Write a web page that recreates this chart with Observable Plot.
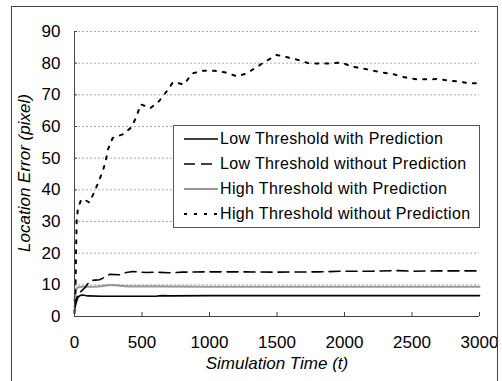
<!DOCTYPE html>
<html>
<head>
<meta charset="utf-8">
<script src="https://cdn.jsdelivr.net/npm/d3@7"></script>
<script src="https://cdn.jsdelivr.net/npm/@observablehq/plot@0.6"></script>
<style>
  html, body { margin: 0; padding: 0; background: #fff; }
  #wrap { position: relative; width: 502px; height: 381px; overflow: hidden; font-family: "Liberation Sans", Arial, sans-serif; }
  #border { position: absolute; left: 11px; top: 6px; width: 487px; height: 400px; border: 1px solid #444; box-sizing: border-box; }
  #legend { position: absolute; left: 173px; top: 125px; width: 307px; height: 103px; border: 1px solid #555; background: #fff; box-sizing: border-box; }
  .row { position: absolute; left: 10px; height: 20px; display: flex; align-items: center; font-size: 16px; letter-spacing: 0.35px; color: #000; white-space: nowrap; }
  .row svg { margin-right: 2px; }
  .ylab { position: absolute; left: 25px; top: 173px; transform: translate(-50%, -50%) rotate(-90deg); font-style: italic; font-size: 17px; white-space: nowrap; }
  .xlab { position: absolute; left: 277px; top: 364px; transform: translate(-50%, -50%); font-style: italic; font-size: 17px; white-space: nowrap; }
</style>
</head>
<body>
<div id="wrap"></div>
<script>
// ---- data ----
const seriesNames = [
  "Low Threshold with Prediction",
  "Low Threshold without Prediction",
  "High Threshold with Prediction",
  "High Threshold without Prediction"
];

const lowWithT = [0, 10, 25, 40, 60, 100, 200, 400, 600, 650, 700, 1000, 1500, 2000, 2500, 3000];
const lowWithV = [2, 4, 6, 6.6, 6.8, 6.5, 6.4, 6.4, 6.4, 6.6, 6.5, 6.6, 6.6, 6.6, 6.6, 6.6];

const lowWithoutT = [0, 10, 25, 50, 75, 100, 124, 150, 186, 220, 260, 334, 384, 433, 532, 600, 700, 800, 1000, 1200, 1500, 1800, 2000, 2200, 2400, 2500, 2700, 3000];
const lowWithoutV = [3, 5, 7, 8, 9, 10.4, 11.3, 11.5, 11.6, 12.3, 13.3, 13.2, 13.9, 14.2, 13.9, 14, 13.8, 14, 14.1, 14.1, 14, 14.1, 14.3, 14.3, 14.5, 14.3, 14.4, 14.4];

const highWithT = [0, 10, 25, 50, 100, 150, 200, 250, 300, 350, 400, 600, 1000, 1500, 2000, 2500, 3000];
const highWithV = [5, 8.5, 9.2, 9.4, 9.4, 9.4, 9.6, 9.9, 9.9, 9.7, 9.5, 9.5, 9.4, 9.4, 9.4, 9.4, 9.4];

const highWithoutT = [0, 8, 12, 16, 25, 50, 82, 110, 148, 181, 210, 230, 250, 283, 357, 421, 458, 490, 562, 626, 681, 730, 810, 874, 952, 1040, 1126, 1206, 1275, 1337, 1411, 1497, 1584, 1658, 1732, 1806, 1893, 1980, 2054, 2129, 2215, 2289, 2363, 2450, 2537, 2611, 2697, 2772, 2846, 2920, 3000];
const highWithoutV = [1, 10, 22, 30, 34, 37, 36.7, 36, 39.4, 42.8, 46, 49, 53, 56.4, 57.5, 59.7, 63, 67, 65.8, 68, 71, 74, 73.3, 76.8, 77.6, 77.6, 77, 75.8, 76.8, 78.4, 80.5, 82.6, 81.8, 81, 80, 79.9, 79.9, 80.2, 78.9, 78.4, 77.6, 77, 76.5, 75.5, 74.9, 74.9, 75, 74.5, 74.2, 73.7, 73.6];

const xTicks = [0, 500, 1000, 1500, 2000, 2500, 3000];
const yTicks = [0, 10, 20, 30, 40, 50, 60, 70, 80, 90];

const xTitle = "Simulation Time (t)";
const yTitle = "Location Error (pixel)";

// ---- build tables ----
const zip = (t, v) => t.map((d, i) => ({t: d, v: v[i]}));
const lowWith = zip(lowWithT, lowWithV);
const lowWithout = zip(lowWithoutT, lowWithoutV);
const highWith = zip(highWithT, highWithV);
const highWithout = zip(highWithoutT, highWithoutV);

const styles = [
  {stroke: "#000", strokeWidth: 1.6, dash: null},
  {stroke: "#000", strokeWidth: 1.6, dash: "11,6"},
  {stroke: "#999", strokeWidth: 2.2, dash: null},
  {stroke: "#000", strokeWidth: 2, dash: "3,7"}
];

const chart = Plot.plot({
  width: 502,
  height: 381,
  marginLeft: 74,
  marginRight: 23,
  marginTop: 31,
  marginBottom: 65,
  style: {fontFamily: "'Liberation Sans', Arial, sans-serif", background: "transparent", color: "#000"},
  x: {domain: [0, 3000]},
  y: {domain: [0, 90]},
  marks: [
    Plot.gridY(yTicks.filter(d => d > 0), {stroke: "#aaa", strokeOpacity: 1, strokeDasharray: "2,2"}),
    Plot.axisY({ticks: yTicks, tickSize: 0, tickPadding: 14, fontSize: 17, label: null, tickFormat: d3.format("d")}),
    Plot.axisX({ticks: xTicks, tickSize: 0, tickPadding: 19, fontSize: 17, label: null, tickFormat: d3.format("d")}),
    Plot.ruleX(xTicks.filter(d => d > 0), {stroke: "#444", insetTop: 281}),
    Plot.ruleY(yTicks.filter(d => d > 0), {stroke: "#444", insetRight: 402}),
    Plot.line(highWith, {x: "t", y: "v", stroke: styles[2].stroke, strokeWidth: styles[2].strokeWidth}),
    Plot.line(lowWith, {x: "t", y: "v", stroke: styles[0].stroke, strokeWidth: styles[0].strokeWidth}),
    Plot.line(lowWithout, {x: "t", y: "v", stroke: styles[1].stroke, strokeWidth: styles[1].strokeWidth, strokeDasharray: styles[1].dash}),
    Plot.line(highWithout, {x: "t", y: "v", stroke: styles[3].stroke, strokeWidth: styles[3].strokeWidth, strokeDasharray: styles[3].dash}),
    Plot.ruleX([0], {stroke: "#444"}),
    Plot.ruleY([0], {stroke: "#444"})
  ]
});

const wrap = document.getElementById("wrap");
wrap.appendChild(chart);
chart.style.position = "absolute";
chart.style.left = "0px";
chart.style.top = "0px";

const border = document.createElement("div");
border.id = "border";
wrap.appendChild(border);

const ylab = document.createElement("div");
ylab.className = "ylab";
ylab.textContent = yTitle;
wrap.appendChild(ylab);

const xlab = document.createElement("div");
xlab.className = "xlab";
xlab.textContent = xTitle;
wrap.appendChild(xlab);

// legend
const legend = document.createElement("div");
legend.id = "legend";
const rowTops = [3, 28, 53, 78];
seriesNames.forEach((name, i) => {
  const row = document.createElement("div");
  row.className = "row";
  row.style.top = rowTops[i] + "px";
  const s = styles[i];
  const svg = d3.create("svg").attr("width", 34).attr("height", 12);
  const ln = svg.append("line").attr("x1", 0).attr("x2", 34).attr("y1", 6).attr("y2", 6)
    .attr("stroke", s.stroke).attr("stroke-width", s.strokeWidth);
  if (s.dash) ln.attr("stroke-dasharray", s.dash);
  row.appendChild(svg.node());
  const span = document.createElement("span");
  span.textContent = name;
  row.appendChild(span);
  legend.appendChild(row);
});
wrap.appendChild(legend);
</script>
</body>
</html>
